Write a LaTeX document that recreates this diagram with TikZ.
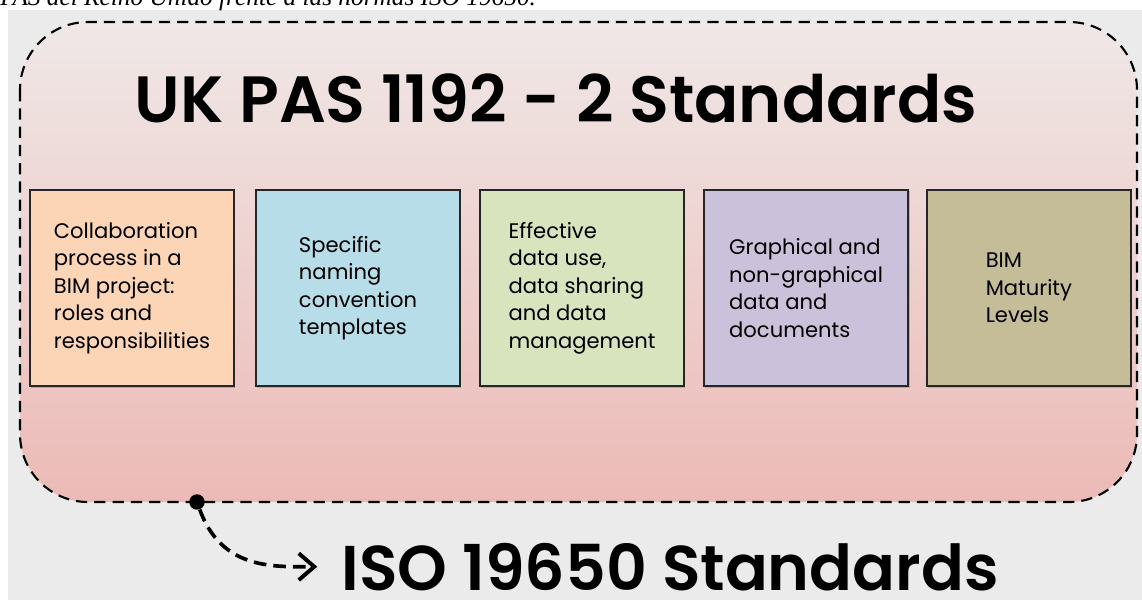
\documentclass[tikz,border=0pt]{standalone}
\usepackage{fontspec}
\setmainfont{Poppins}
\newfontfamily\capfont{Liberation Serif}
\newfontfamily\headfont{Poppins SemiBold}
\usepackage{tikz}
\usetikzlibrary{positioning, arrows.meta, shadows}

\definecolor{pinktop}{HTML}{EFE8E7}
\definecolor{pinkbot}{HTML}{ECBAB6}
\definecolor{peach}{HTML}{FBD5B5}
\definecolor{skyblue}{HTML}{B7DDE8}
\definecolor{olivegreen}{HTML}{D7E4BD}
\definecolor{lavender}{HTML}{CCC1DA}
\definecolor{tan}{HTML}{C4BD97}

\tikzset{
  topic/.style={draw=black!85, line width=1.4pt, minimum width=5.1cm,
    minimum height=4.92cm, align=left, font=\fontsize{15}{19.5}\selectfont,
    drop shadow={shadow xshift=1pt, shadow yshift=-1.2pt, opacity=.45}},
  headline/.style={font=\headfont\fontsize{45}{50}\selectfont, inner sep=2pt}
}

\begin{document}
\begin{tikzpicture}[x=0.025cm,y=-0.025cm,>=latex]
            \useasboundingbox (0,0) rectangle (1142,600);
            \clip (0,0) rectangle (1142,600);

            % slide background
            \fill[white] (0,0) rectangle (1142,600);
            \fill[black!8] (8,10) rectangle (1142,600);

            % caption cut off at the top
            \node[anchor=base west, inner sep=0pt, font=\capfont\itshape\fontsize{18}{20}\selectfont]
                (caption) at (0,5) {PAS del Reino Unido frente a las normas ISO 19650.};

            % dashed frame round the UK standards
            \shade[top color=pinktop, bottom color=pinkbot, rounded corners=1.7cm]
                (20,22) rectangle (1137,502);
            \draw[dashed, dash pattern=on 8pt off 5pt, line width=1.5pt, rounded corners=1.7cm]
                (20,22) rectangle (1137,502);

            % title
            \node[headline, anchor=base, font=\headfont\fontsize{46.5}{50}\selectfont]
                (pas) at (556,122) {UK PAS 1192 - 2 Standards};

            % the five topics
            \node[topic, fill=peach] (collab) at (132,288)
                {Collaboration\\process in a\\BIM project:\\roles and\\responsibilities};
            \node[topic, fill=skyblue, right=0.5cm of collab] (naming)
                {Specific\\naming\\convention\\templates};
            \node[topic, fill=olivegreen, right=0.45cm of naming] (datause)
                {Effective\\data use,\\data sharing\\and data\\management};
            \node[topic, fill=lavender, right=0.45cm of datause] (graphical)
                {Graphical and\\non-graphical\\data and\\documents};
            \node[topic, fill=tan, right=0.42cm of graphical] (maturity)
                {BIM\\Maturity\\Levels};

            % ISO standards and the arrow to them
            \node[headline, anchor=base] (iso) at (670,590) {ISO 19650 Standards};
            \node[circle, fill=black, inner sep=0pt, minimum size=11pt] (dot) at (197,502) {};
            \draw[line width=2.6pt, dash pattern=on 9pt off 5pt,
                -{Straight Barb[length=11pt,width=19pt,line width=2.8pt]}, shorten >=15pt]
                (dot) to[out=-70, in=180, looseness=1.1] (iso.west);
        \end{tikzpicture}
\end{document}
